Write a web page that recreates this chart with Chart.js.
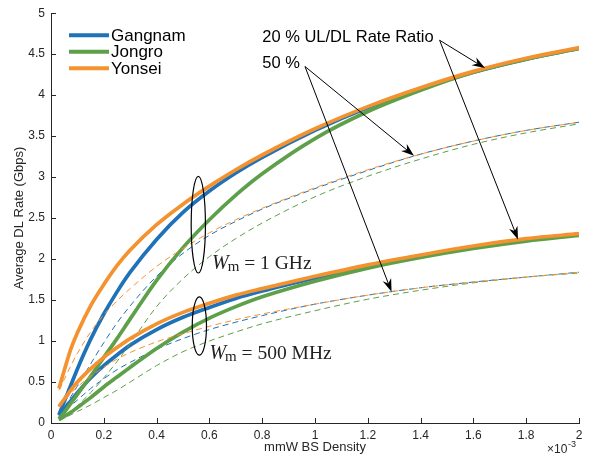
<!DOCTYPE html>
<html>
<head>
<meta charset="utf-8">
<script src="https://cdn.jsdelivr.net/npm/chart.js@4.4.1/dist/chart.umd.min.js"></script>
<style>
  html, body { margin: 0; padding: 0; background: #fff; }
  #wrap { width: 592px; height: 462px; }
</style>
</head>
<body>
<div id="wrap"><canvas id="c" width="592" height="462"></canvas></div>
<script>
// mmW BS density (x 10^-3)
const density = [0.03, 0.05, 0.075, 0.1, 0.15, 0.2, 0.25, 0.3, 0.4, 0.5, 0.6, 0.7, 0.8, 1.0, 1.2, 1.4, 1.6, 1.8, 2.0];

// Wm = 1 GHz, 20 % UL/DL ratio (solid)
const gangnam1g20 = [0.10, 0.26, 0.46, 0.66, 1.02, 1.33, 1.60, 1.84, 2.24, 2.57, 2.83, 3.05, 3.24, 3.57, 3.85, 4.08, 4.28, 4.44, 4.57];
const jongro1g20  = [0.05, 0.13, 0.24, 0.35, 0.57, 0.80, 1.03, 1.27, 1.74, 2.14, 2.48, 2.78, 3.04, 3.47, 3.80, 4.06, 4.28, 4.44, 4.57];
const yonsei1g20  = [0.42, 0.64, 0.90, 1.10, 1.43, 1.69, 1.92, 2.11, 2.42, 2.67, 2.89, 3.09, 3.27, 3.59, 3.86, 4.09, 4.29, 4.45, 4.58];
// Wm = 1 GHz, 50 % (dashed)
const gangnam1g50 = [0.10, 0.19, 0.32, 0.45, 0.72, 0.98, 1.22, 1.43, 1.79, 2.07, 2.29, 2.46, 2.61, 2.86, 3.08, 3.28, 3.44, 3.57, 3.67];
const jongro1g50  = [0.04, 0.08, 0.14, 0.21, 0.37, 0.55, 0.75, 0.97, 1.42, 1.76, 2.03, 2.25, 2.44, 2.76, 3.01, 3.22, 3.40, 3.54, 3.65];
const yonsei1g50  = [0.40, 0.53, 0.70, 0.85, 1.11, 1.32, 1.49, 1.64, 1.91, 2.13, 2.32, 2.48, 2.62, 2.87, 3.09, 3.28, 3.44, 3.57, 3.67];
// Wm = 500 MHz, 20 % (solid)
const gangnam500m20 = [0.09, 0.17, 0.27, 0.37, 0.55, 0.70, 0.83, 0.95, 1.14, 1.29, 1.41, 1.52, 1.61, 1.77, 1.92, 2.04, 2.15, 2.24, 2.30];
const jongro500m20  = [0.04, 0.08, 0.13, 0.19, 0.31, 0.44, 0.56, 0.68, 0.91, 1.11, 1.28, 1.42, 1.54, 1.73, 1.89, 2.02, 2.13, 2.22, 2.29];
const yonsei500m20  = [0.20, 0.29, 0.40, 0.50, 0.66, 0.80, 0.92, 1.03, 1.21, 1.35, 1.46, 1.56, 1.64, 1.79, 1.93, 2.05, 2.16, 2.25, 2.31];
// Wm = 500 MHz, 50 % (dashed)
const gangnam500m50 = [0.07, 0.13, 0.21, 0.28, 0.42, 0.54, 0.65, 0.74, 0.90, 1.03, 1.14, 1.23, 1.31, 1.45, 1.56, 1.65, 1.72, 1.78, 1.84];
const jongro500m50  = [0.03, 0.06, 0.10, 0.14, 0.22, 0.31, 0.40, 0.50, 0.70, 0.87, 1.00, 1.11, 1.21, 1.37, 1.51, 1.62, 1.71, 1.78, 1.83];
const yonsei500m50  = [0.20, 0.27, 0.36, 0.44, 0.57, 0.68, 0.78, 0.86, 0.99, 1.09, 1.18, 1.26, 1.33, 1.45, 1.56, 1.65, 1.72, 1.78, 1.84];

const regions = ['Gangnam', 'Jongro', 'Yonsei'];
const colors = ['#1f72b8', '#5e9f49', '#f4922f'];

const sans = "'Liberation Sans', Arial, Helvetica, sans-serif";
const serif = "'Liberation Serif', 'DejaVu Serif', 'Times New Roman', serif";

function pts(ys) {
  return density.map((d, i) => ({x: d, y: ys[i]}));
}

function curve(r, ys, dashed) {
  return {
    label: regions[r] + (dashed ? ' 50%' : ' 20%'),
    data: pts(ys),
    borderColor: colors[r],
    backgroundColor: colors[r],
    borderWidth: dashed ? 1 : 3.7,
    borderDash: dashed ? [6, 4] : [],
    pointRadius: 0,
    fill: false,
    cubicInterpolationMode: 'monotone',
    order: 2 - r
  };
}

const datasets = [
  curve(0, gangnam1g20, false), curve(1, jongro1g20, false), curve(2, yonsei1g20, false),
  curve(0, gangnam1g50, true), curve(1, jongro1g50, true), curve(2, yonsei1g50, true),
  curve(0, gangnam500m20, false), curve(1, jongro500m20, false), curve(2, yonsei500m20, false),
  curve(0, gangnam500m50, true), curve(1, jongro500m50, true), curve(2, yonsei500m50, true)
];

// annotation anchors, in data units
const ratioText = {x: 0.8, y: 4.65};
const pctText = {x: 0.8, y: 4.33};
const ratioTail = {x: 1.472, y: 4.67};
const ratioHeads = [{x: 1.644, y: 4.33}, {x: 1.769, y: 2.24}];
const pctTail = {x: 0.962, y: 4.35};
const pctHeads = [{x: 1.375, y: 3.26}, {x: 1.29, y: 1.60}];
const ellipses = [{x: 0.558, y: 2.42, rx: 0.027, ry: 0.59}, {x: 0.562, y: 1.184, rx: 0.027, ry: 0.355}];
const wLabels = [{x: 0.61, y: 1.875, text: ' = 1 GHz'}, {x: 0.60, y: 0.78, text: ' = 500 MHz'}];

function arrow(ctx, x0, y0, x1, y1) {
  const a = Math.atan2(y1 - y0, x1 - x0);
  const len = 13, hw = 4.5, back = 9;
  ctx.beginPath();
  ctx.moveTo(x0, y0);
  ctx.lineTo(x1 - Math.cos(a) * back, y1 - Math.sin(a) * back);
  ctx.stroke();
  ctx.save();
  ctx.translate(x1, y1);
  ctx.rotate(a);
  ctx.beginPath();
  ctx.moveTo(0, 0);
  ctx.lineTo(-len, -hw);
  ctx.lineTo(-back, 0);
  ctx.lineTo(-len, hw);
  ctx.closePath();
  ctx.fill();
  ctx.restore();
}

const notes = {
  id: 'notes',
  afterDraw(chart) {
    const {ctx, scales: {x, y}} = chart;
    const px = v => x.getPixelForValue(v);
    const py = v => y.getPixelForValue(v);
    ctx.save();

    // inward ticks
    ctx.strokeStyle = '#262626';
    ctx.lineWidth = 1;
    ctx.beginPath();
    x.ticks.forEach(t => {
      const p = Math.round(px(t.value)) + 0.5;
      ctx.moveTo(p, y.bottom); ctx.lineTo(p, y.bottom - 5);
    });
    y.ticks.forEach(t => {
      const p = Math.round(py(t.value)) + 0.5;
      ctx.moveTo(x.left, p); ctx.lineTo(x.left + 5, p);
    });
    ctx.stroke();

    // x10^-3
    ctx.fillStyle = '#262626';
    ctx.textBaseline = 'alphabetic';
    ctx.textAlign = 'left';
    ctx.font = '12px ' + sans;
    ctx.fillText('\u00d710', x.right - 32, chart.height - 9);
    ctx.font = '9px ' + sans;
    ctx.fillText('-3', x.right - 11, chart.height - 15);

    // legend
    const lx = x.left + 18;
    regions.forEach((r, i) => {
      const ly = y.top + 22 + i * 16.5;
      ctx.strokeStyle = colors[i];
      ctx.lineWidth = 4;
      ctx.beginPath();
      ctx.moveTo(lx, ly); ctx.lineTo(lx + 40, ly);
      ctx.stroke();
      ctx.fillStyle = '#000';
      ctx.font = '17px ' + sans;
      ctx.textBaseline = 'middle';
      ctx.fillText(r, lx + 42, ly + 1);
    });

    // ellipses
    ctx.strokeStyle = '#000';
    ctx.lineWidth = 1.2;
    ellipses.forEach(e => {
      const cx = px(e.x), cy = py(e.y);
      ctx.beginPath();
      ctx.ellipse(cx, cy, px(e.x + e.rx) - cx, cy - py(e.y + e.ry), 0, 0, Math.PI * 2);
      ctx.stroke();
    });

    // arrows
    ctx.fillStyle = '#000';
    ctx.lineWidth = 1;
    ratioHeads.forEach(h => arrow(ctx, px(ratioTail.x), py(ratioTail.y), px(h.x), py(h.y)));
    pctHeads.forEach(h => arrow(ctx, px(pctTail.x), py(pctTail.y), px(h.x), py(h.y)));

    // labels
    ctx.textBaseline = 'alphabetic';
    ctx.font = '16.5px ' + sans;
    ctx.fillText('20 % UL/DL Rate Ratio', px(ratioText.x), py(ratioText.y));
    ctx.fillText('50 %', px(pctText.x), py(pctText.y));

    wLabels.forEach(w => {
      let tx = px(w.x);
      const ty = py(w.y);
      ctx.fillStyle = '#222';
      ctx.font = 'italic 20px ' + serif;
      ctx.fillText('W', tx, ty);
      tx += ctx.measureText('W').width - 1;
      ctx.font = '15px ' + serif;
      ctx.fillText('m', tx, ty + 2);
      tx += ctx.measureText('m').width;
      ctx.font = '19.5px ' + serif;
      ctx.fillText(w.text, tx, ty);
    });
    ctx.restore();
  }
};

new Chart(document.getElementById('c'), {
  type: 'line',
  data: {datasets},
  options: {
    responsive: false,
    animation: false,
    devicePixelRatio: 1,
    layout: {padding: {top: 7, right: 13, left: 0, bottom: 0}},
    plugins: {legend: {display: false}, tooltip: {enabled: false}},
    scales: {
      x: {
        type: 'linear', min: 0, max: 2,
        afterFit: s => { s.height = 39; },
        ticks: {stepSize: 0.2, padding: 5, color: '#262626', font: {family: sans, size: 12},
          callback: v => String(Math.round(v * 10) / 10), maxRotation: 0},
        grid: {drawOnChartArea: false, drawTicks: false},
        border: {color: '#262626', width: 1},
        title: {display: true, text: 'mmW BS Density', color: '#262626', font: {family: sans, size: 13}, padding: {top: 0, bottom: 7}}
      },
      y: {
        type: 'linear', min: 0, max: 5,
        afterFit: s => { s.width = 51; },
        ticks: {stepSize: 0.5, padding: 6, color: '#262626', font: {family: sans, size: 12},
          callback: v => String(Math.round(v * 10) / 10)},
        grid: {drawOnChartArea: false, drawTicks: false},
        border: {color: '#262626', width: 1},
        title: {display: true, text: 'Average DL Rate (Gbps)', color: '#262626', font: {family: sans, size: 13}, padding: {top: 12, bottom: 0}}
      }
    }
  },
  plugins: [notes]
});
</script>
</body>
</html>
